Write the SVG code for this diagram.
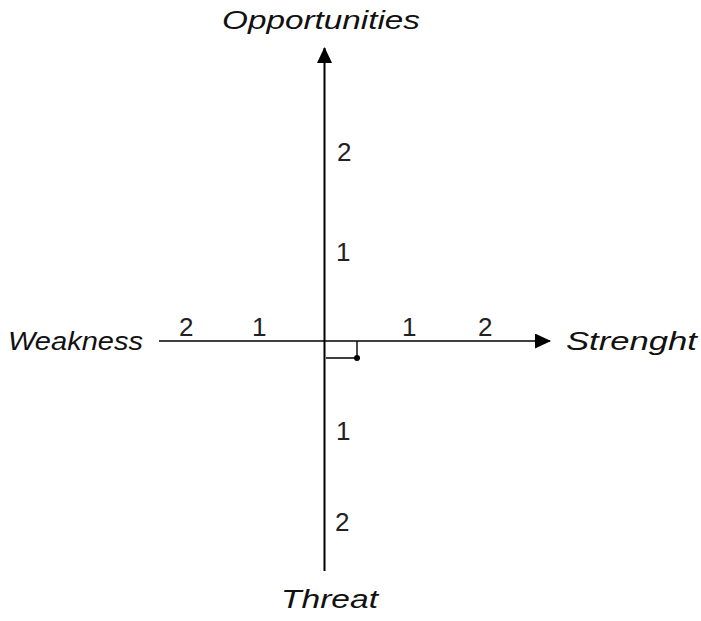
<svg xmlns="http://www.w3.org/2000/svg" width="701" height="621" viewBox="0 0 701 621">
  <style>
    .axis { stroke: #000; stroke-width: 1.6; fill: none; }
    .title { font-family: "Liberation Sans", "DejaVu Sans", sans-serif; font-style: italic; font-size: 25px; fill: #111; }
    .tick { font-family: "Liberation Sans", Arial, sans-serif; font-size: 26px; fill: #222; }
  </style>
  <defs>
    <marker id="arrow" markerWidth="16" markerHeight="15" refX="15" refY="7.5" orient="auto" markerUnits="userSpaceOnUse" viewBox="0 0 16 15">
      <path d="M0,0 L16,7.5 L0,15 Z" fill="#000"/>
    </marker>
  </defs>
  <rect width="701" height="621" fill="#fff"/>

  <!-- axes -->
  <g id="connectors">
    <line class="axis" x1="324.5" y1="571" x2="324.5" y2="48" marker-end="url(#arrow)" style="stroke-width:2"/>
    <line class="axis" x1="159" y1="341" x2="550" y2="341" marker-end="url(#arrow)"/>
    <!-- origin offset marker -->
    <polyline class="axis" points="326,358 357,358 357,341" style="stroke-width:1.4"/>
    <circle cx="357" cy="358" r="3" fill="#000"/>
  </g>

  <g id="opportunities"><text class="title" x="222" y="29" textLength="198" lengthAdjust="spacingAndGlyphs">Opportunities</text></g>
  <g id="weakness"><text class="title" x="8" y="350" textLength="135" lengthAdjust="spacingAndGlyphs">Weakness</text></g>
  <g id="strenght"><text class="title" x="566" y="350" textLength="131" lengthAdjust="spacingAndGlyphs">Strenght</text></g>
  <g id="threat"><text class="title" x="281" y="608" textLength="97" lengthAdjust="spacingAndGlyphs">Threat</text></g>

  <!-- scale numbers -->
  <g id="ticks">
    <text class="tick" x="337" y="161">2</text>
    <text class="tick" x="336" y="261">1</text>
    <text class="tick" x="336" y="440">1</text>
    <text class="tick" x="335" y="531">2</text>
    <text class="tick" x="179" y="336">2</text>
    <text class="tick" x="252" y="336">1</text>
    <text class="tick" x="402" y="336">1</text>
    <text class="tick" x="478" y="336">2</text>
  </g>
</svg>
